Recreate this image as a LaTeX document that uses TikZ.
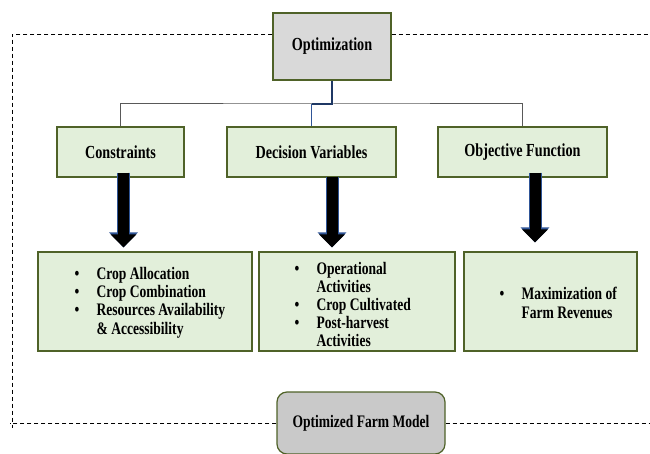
\documentclass[tikz,border=0pt]{standalone}
\usepackage{fontspec}
\setmainfont{Liberation Serif}[FakeStretch=0.77]
\usetikzlibrary{arrows.meta}
\definecolor{boxline}{HTML}{4F6228}
\definecolor{greenfill}{HTML}{E2EFDA}
\definecolor{topgray}{HTML}{D9D9D9}
\definecolor{farmgray}{HTML}{C9C9C9}
\definecolor{linkgray}{HTML}{595959}
\definecolor{linknavy}{HTML}{1F3864}
\definecolor{linkblue}{HTML}{2F5597}
\newcommand{\blt}[1]{\makebox[22pt][l]{\textbullet}#1}
\newcommand{\cnt}[1]{\hspace*{22pt}#1}
\begin{document}
\begin{tikzpicture}[
  x=1pt, y=-1pt,
  every node/.style={font=\fontsize{18.4}{21}\selectfont\bfseries},
  head/.style={draw=boxline, line width=1.2pt, fill=greenfill, minimum height=50pt},
  result/.style={draw=boxline, line width=1.2pt, fill=greenfill, minimum height=99pt},
  items/.style={anchor=west, align=left, inner sep=0pt, font=\fontsize{17.6}{18.2}\selectfont\bfseries},
  frame/.style={dash pattern=on 4pt off 3pt, line width=0.75pt},
  link/.style={linkgray, line width=1pt},
  bigarrow/.style={line width=11pt, -{Triangle[width=25pt,length=13pt]},
    preaction={draw=linkblue, line width=13pt, -{Triangle[width=28pt,length=15pt]}}}
]
  \useasboundingbox (0,0) rectangle (650,454);
  \clip (0,0) rectangle (650,454);
  \node[draw=boxline, line width=1.2pt, fill=topgray, minimum width=118pt, minimum height=67pt] (opt) at (332,46.5) {Optimization};
  \node[head, minimum width=127pt] (cons) at (120.5,152) {Constraints};
  \node[head, minimum width=169pt] (dec) at (311.5,152) {Decision Variables};
  \node[head, minimum width=169pt] (obj) at (522.5,152) {Objective Function};
  \node[result, minimum width=214pt] (crop) at (145,301.5) {};
  \node[result, minimum width=196pt] (act) at (357,301.5) {};
  \node[result, minimum width=173pt] (rev) at (550.5,301.5) {};
  \node[items] (cropTxt) at ([xshift=37pt,yshift=-1pt]crop.west)
    {\blt{Crop Allocation}\\ \blt{Crop Combination}\\ \blt{Resources Availability}\\ \cnt{\& Accessibility}};
  \node[items] (actTxt) at ([xshift=36pt,yshift=-3pt]act.west)
    {\blt{Operational}\\ \cnt{Activities}\\ \blt{Crop Cultivated}\\ \blt{Post-harvest}\\ \cnt{Activities}};
  \node[items] (revTxt) at ([xshift=36pt,yshift=-1.5pt]rev.west)
    {\blt{Maximization of}\\ \cnt{Farm Revenues}};
  \node[draw=boxline, line width=1.2pt, fill=farmgray, rounded corners=10pt, minimum width=168pt, minimum height=62pt,
    font=\fontsize{17.6}{20}\selectfont\bfseries] (farm) at (361,423) {Optimized Farm Model};

  \coordinate (hub) at (opt.south |- 0,104);
  \draw[link] (cons.north) |- (hub) -| (obj.north);
  \draw[linknavy, line width=1.5pt] (opt.south) -- (hub) -- (hub -| dec.north);
  \draw[linkblue, line width=0.9pt] (hub -| dec.north) -- (dec.north);

  \draw[bigarrow] ([xshift=3pt,yshift=5pt]cons.south) -- ([xshift=3pt,yshift=4pt]cons.south |- crop.north);
  \draw[bigarrow] ([xshift=20.5pt,yshift=1pt]dec.south) -- ([xshift=20.5pt,yshift=4pt]dec.south |- act.north);
  \draw[bigarrow] ([xshift=12.5pt,yshift=5pt]obj.south) -- ([xshift=12.5pt,yshift=9pt]obj.south |- rev.north);

  \coordinate (tl) at (12,34);
  \coordinate (bl) at (12,428);
  \draw[frame] (tl -| opt.west) -- (tl) -- (bl);
  \draw[frame] (tl -| opt.east) -- (650,34);
  \draw[frame] (farm.west) -- (10,423);
  \draw[frame] (farm.east) -- (650,423);
\end{tikzpicture}
\end{document}
